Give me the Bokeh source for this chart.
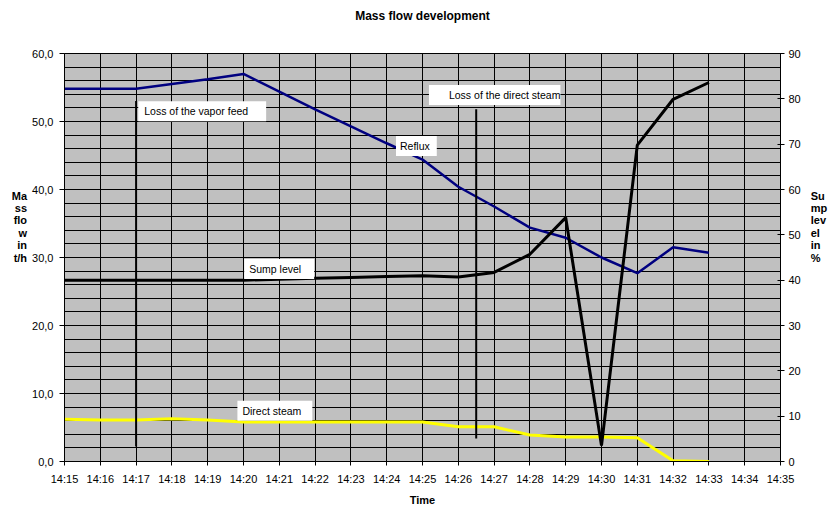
from bokeh.plotting import figure
from bokeh.models import Range1d, LinearAxis, FixedTicker, Label, ColumnDataSource
from bokeh.embed import file_html
from bokeh.resources import INLINE

# ---------------- data ----------------
times = ["14:15", "14:16", "14:17", "14:18", "14:19", "14:20", "14:21", "14:22", "14:23", "14:24",
         "14:25", "14:26", "14:27", "14:28", "14:29", "14:30", "14:31", "14:32", "14:33"]
reflux = [54.8, 54.8, 54.8, 55.5, 56.2, 57.0, 54.4, 51.8, 49.3, 46.8,
          44.4, 40.4, 37.5, 34.4, 32.9, 30.0, 27.7, 31.5, 30.7]            # t/h, left axis
direct_steam = [6.2, 6.1, 6.1, 6.3, 6.1, 5.8, 5.8, 5.8, 5.8, 5.8,
                5.8, 5.1, 5.1, 3.9, 3.6, 3.6, 3.5, 0.1, 0.0]              # t/h, left axis
sump_level = [40.0, 40.0, 40.0, 40.0, 40.0, 40.0, 40.2, 40.4, 40.6, 40.8,
              41.0, 40.7, 41.7, 45.7, 53.8, 3.5, 69.8, 79.9, 83.6]         # %, right axis

x_tick_labels = ["14:15", "14:16", "14:17", "14:18", "14:19", "14:20", "14:21", "14:22", "14:23",
                 "14:24", "14:25", "14:26", "14:27", "14:28", "14:29", "14:30", "14:31", "14:32",
                 "14:33", "14:34", "14:35"]
left_ticks = [0, 10, 20, 30, 40, 50, 60]
left_tick_labels = ["0,0", "10,0", "20,0", "30,0", "40,0", "50,0", "60,0"]
right_ticks = [0, 10, 20, 30, 40, 50, 60, 70, 80, 90]

event_names = ["Loss of the vapor feed", "Loss of the direct steam"]
event_times = ["14:17:00", "14:26:30"]
event_top = [53.0, 51.8]
event_bottom = [2.2, 3.4]

chart_title = "Mass flow development"
left_title_lines = ["Ma", "ss", "flo", "w", "in", "t/h"]
right_title_lines = ["Su", "mp", "lev", "el", "in", "%"]


def minutes(t):
    parts = [int(v) for v in t.split(":")]
    h, m = parts[0], parts[1]
    s = parts[2] if len(parts) > 2 else 0
    return (h * 60 + m + s / 60.0) - (14 * 60 + 15)


xs = [minutes(t) for t in times]
FONT = "Liberation Sans"
NB = "\u00a0"

p = figure(width=830, height=508, output_backend="svg", toolbar_location=None,
           x_range=Range1d(0, 20), y_range=Range1d(0, 60),
           min_border_left=64, min_border_right=49, min_border_top=53, min_border_bottom=45)
p.extra_y_ranges = {"sump": Range1d(0, 90)}
p.background_fill_color = "#c0c0c0"
p.border_fill_color = "white"
p.outline_line_color = "black"

# grids
x_tick_pos = [minutes(t) for t in x_tick_labels]
p.xgrid.ticker = FixedTicker(ticks=x_tick_pos)
p.ygrid.ticker = FixedTicker(ticks=list(range(0, 61, 2)))
for g in (p.xgrid, p.ygrid):
    g.grid_line_color = "black"
    g.grid_line_width = 1

# bottom axis
xa = p.xaxis[0]
xa.ticker = FixedTicker(ticks=x_tick_pos)
xa.major_label_overrides = {pos: lab for pos, lab in zip(x_tick_pos, x_tick_labels)}
xa.major_tick_out = 4
xa.major_tick_in = 0
xa.major_label_standoff = 7
xa.minor_tick_line_color = None
xa.axis_label = "Time"
xa.axis_label_standoff = 6

# top axis used only to carry the chart title
ta = LinearAxis(ticker=FixedTicker(ticks=[]), bounds=(0, 19.65))
ta.axis_line_color = None
ta.major_tick_line_color = None
ta.minor_tick_line_color = None
ta.major_tick_out = 0
ta.major_label_standoff = 0
ta.axis_label = chart_title
ta.axis_label_standoff = 31
ta.axis_label_text_font = FONT
ta.axis_label_text_font_size = "12px"
ta.axis_label_text_font_style = "bold"
ta.axis_label_text_color = "black"
p.add_layout(ta, "above")

# left axis
ya = p.yaxis[0]
ya.ticker = FixedTicker(ticks=left_ticks)
ya.major_label_overrides = {t: lab for t, lab in zip(left_ticks, left_tick_labels)}
ya.major_tick_out = 5
ya.major_tick_in = 0
ya.major_label_standoff = 6
ya.minor_tick_line_color = None
ya.axis_label = "\n".join(left_title_lines + [NB] * 5)
ya.axis_label_standoff = 2

# right axis
ra = LinearAxis(y_range_name="sump", ticker=FixedTicker(ticks=right_ticks))
ra.major_tick_out = 4
ra.major_tick_in = 3
ra.major_label_standoff = 4
ra.minor_tick_line_color = None
ra.axis_label = "\n".join(right_title_lines + [NB] * 5)
ra.axis_label_standoff = 7
p.add_layout(ra, "right")

for ax in (xa, ya, ra):
    ax.axis_line_color = "black"
    ax.major_tick_line_color = "black"
    ax.major_label_text_font = FONT
    ax.major_label_text_font_size = "11px"
    ax.major_label_text_color = "black"
    ax.axis_label_text_font = FONT
    ax.axis_label_text_font_size = "11px"
    ax.axis_label_text_font_style = "bold"
    ax.axis_label_text_color = "black"
for ax in (ya, ra):
    ax.axis_label_orientation = "horizontal"
    ax.axis_label_text_line_height = 1.03

# series
p.line(xs, reflux, line_color="#000080", line_width=2.5)
p.line(xs, direct_steam, line_color="#ffff00", line_width=3)
p.line(xs, sump_level, line_color="black", line_width=3, y_range_name="sump")

# event lines
ev = ColumnDataSource(dict(x=[minutes(t) for t in event_times], y0=event_top, y1=event_bottom))
p.segment(x0="x", y0="y0", x1="x", y1="y1", source=ev, line_color="black", line_width=2)

# annotation boxes (x = left edge of the white box)
def box_label(x, y, text, pad):
    p.add_layout(Label(x=x, y=y, text=text, text_font=FONT, text_font_size="10.5px",
                       text_color="black", text_align="left", text_baseline="middle",
                       background_fill_color="white", background_fill_alpha=1.0,
                       padding=pad))

box_label(2.06, 51.5, event_names[0], (6, 18, 4, 4))
box_label(10.18, 53.9, event_names[1], (20, 0, 4, 4))
box_label(9.26, 46.4, "Reflux", (4, 7, 4, 4))
box_label(5.02, 28.3, "Sump level", (5, 13, 4, 4))
box_label(4.83, 7.46, "Direct steam", (5, 11, 4, 4))

open("out.html", "w").write(file_html(p, INLINE))
